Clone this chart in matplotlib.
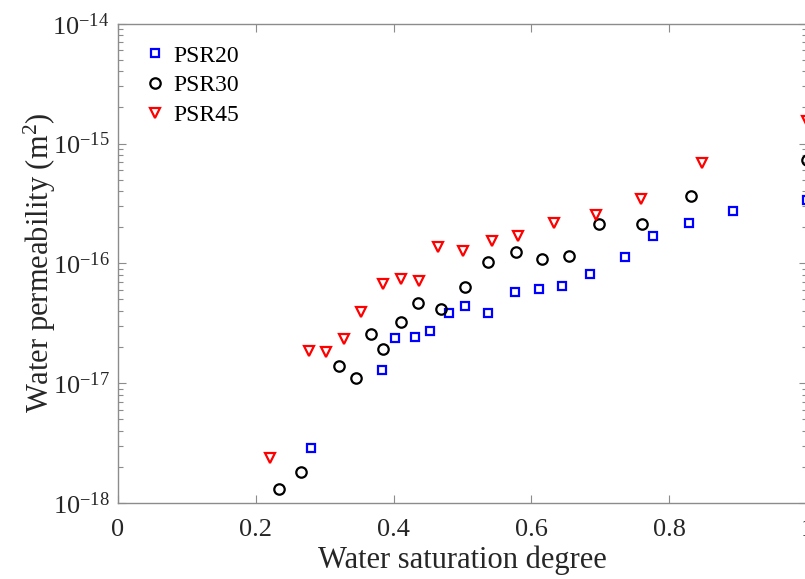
import matplotlib
matplotlib.use("Agg")
import matplotlib.pyplot as plt
import matplotlib.ticker as mticker
import numpy as np

plt.rcParams['font.family'] = ['Liberation Serif', 'DejaVu Serif']
plt.rcParams['mathtext.fontset'] = 'custom'
plt.rcParams['mathtext.rm'] = 'Liberation Serif'
plt.rcParams['mathtext.it'] = 'Liberation Serif:italic'
plt.rcParams['axes.unicode_minus'] = False

# PSR20 (blue squares)
sw20 = [0.280, 0.383, 0.402, 0.431, 0.453, 0.481, 0.503, 0.537, 0.576, 0.611,
        0.644, 0.685, 0.736, 0.777, 0.829, 0.893, 1.000]
k20 = [2.87e-18, 1.29e-17, 2.38e-17, 2.44e-17, 2.74e-17, 3.87e-17, 4.38e-17, 3.88e-17,
       5.78e-17, 6.12e-17, 6.41e-17, 8.13e-17, 1.12e-16, 1.68e-16, 2.16e-16, 2.74e-16,
       3.36e-16]

# PSR30 (black circles)
sw30 = [0.234, 0.265, 0.321, 0.346, 0.367, 0.385, 0.411, 0.435, 0.469, 0.503,
        0.537, 0.577, 0.615, 0.655, 0.698, 0.760, 0.832, 1.000]
k30 = [1.32e-18, 1.82e-18, 1.38e-17, 1.10e-17, 2.55e-17, 1.92e-17, 3.22e-17, 4.71e-17,
       4.14e-17, 6.39e-17, 1.02e-16, 1.25e-16, 1.08e-16, 1.15e-16, 2.11e-16, 2.11e-16,
       3.65e-16, 7.34e-16]

# PSR45 (red triangles)
sw45 = [0.221, 0.277, 0.302, 0.328, 0.352, 0.384, 0.411, 0.437, 0.465, 0.501,
        0.543, 0.580, 0.632, 0.693, 0.759, 0.848, 1.000]
k45 = [2.38e-18, 1.84e-17, 1.82e-17, 2.32e-17, 3.91e-17, 6.67e-17, 7.38e-17, 7.06e-17,
       1.37e-16, 1.27e-16, 1.55e-16, 1.69e-16, 2.15e-16, 2.54e-16, 3.46e-16, 6.88e-16,
       1.54e-15]

fig = plt.figure(figsize=(8.05, 5.79), dpi=100)
ax = fig.add_axes([0.1466, 0.1313, 0.856, 0.8278])

ax.plot(sw20, k20, 's', ls='none', mfc='none', mec='#0000ff', ms=6, mew=1.6,
        label='PSR20', clip_on=False)
ax.plot(sw30, k30, 'o', ls='none', mfc='none', mec='black', ms=7.5, mew=1.6,
        label='PSR30', clip_on=False)
ax.plot(sw45, k45, 'v', ls='none', mfc='none', mec='#ff0000', ms=7.5, mew=1.6,
        label='PSR45', clip_on=False)

ax.set_yscale('log')
ax.set_xlim(0, 1)
ax.set_ylim(1e-18, 1e-14)
ax.set_xticks([0, 0.2, 0.4, 0.6, 0.8, 1.0])
ax.xaxis.set_major_formatter(mticker.FuncFormatter(lambda v, p: '%g' % v))
ax.yaxis.set_major_locator(mticker.LogLocator(base=10, numticks=10))
ax.yaxis.set_minor_locator(mticker.LogLocator(base=10, subs=np.arange(2, 10), numticks=20))
ax.yaxis.set_minor_formatter(mticker.NullFormatter())

for s in ax.spines.values():
    s.set_color('#8c8c8c')
    s.set_linewidth(1.0)
ax.tick_params(which='both', direction='in', top=True, right=True, color='#8c8c8c',
               labelcolor='#262626', labelsize=19)
ax.tick_params(which='major', length=6, width=0.8)
ax.tick_params(which='minor', length=3.5, width=0.8)
ax.tick_params(axis='x', which='major', pad=11.5)
ax.tick_params(axis='y', which='major', pad=6)

ax.set_xlabel('Water saturation degree', fontsize=22, color='#262626', labelpad=3)
ax.set_ylabel('Water permeability (m$^2$)', fontsize=22, color='#262626', labelpad=-4)

ax.legend(loc='upper left', frameon=False, fontsize=17, handletextpad=0.35,
          labelspacing=0.35, borderaxespad=0.2, bbox_to_anchor=(0.02, 0.985),
          handlelength=0.8, labelcolor='black')

fig.savefig('out.png', dpi=100)
